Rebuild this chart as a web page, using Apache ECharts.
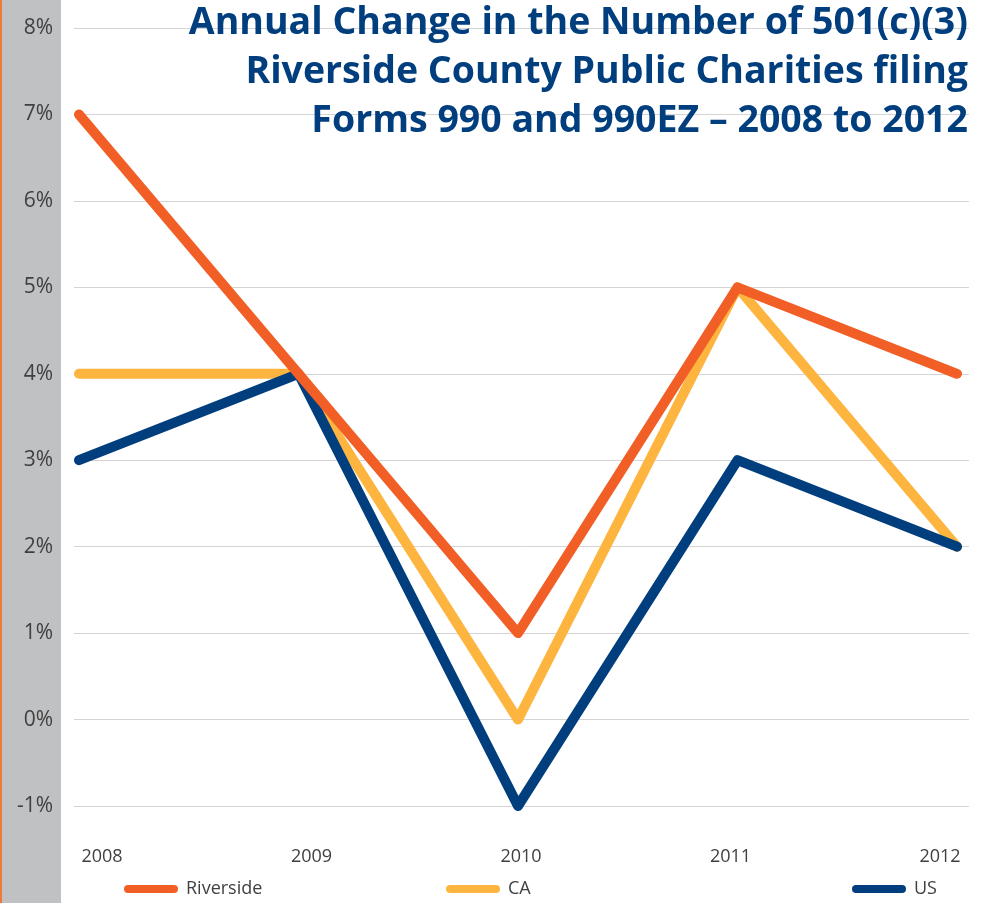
<!DOCTYPE html>
<html>
<head>
<meta charset="utf-8">
<script src="https://cdn.jsdelivr.net/npm/echarts@6/dist/echarts.min.js"></script>
<style>
  html, body { margin: 0; padding: 0; background: #fff; }
  #chart { width: 985px; height: 903px; }
</style>
</head>
<body>
<div id="chart"></div>
<script>
var chart = echarts.init(document.getElementById('chart'), null, { renderer: 'canvas' });

var years = ['2008', '2009', '2010', '2011', '2012'];
var riverside = [7, 4, 1, 5, 4];
var ca = [4, 4, 0, 5, 2];
var us = [3, 4, -1, 3, 2];

var titleText = 'Annual Change in the Number of 501(c)(3)\nRiverside County Public Charities filing\nForms 990 and 990EZ \u2013 2008 to 2012';

var orange = '#f15f26';
var gold = '#fdb53f';
var navy = '#003e7e';
var textGrey = '#404040';

// legend icon: a rounded bar like the thick line
var barIcon = 'path://M4,0 L50,0 A4,4 0 0 1 50,8 L4,8 A4,4 0 0 1 4,0 Z';

function legendAt(name, left) {
    return {
        data: [name],
        left: left,
        top: 880,
        padding: 0,
        icon: barIcon,
        itemWidth: 54,
        itemHeight: 8,
        itemGap: 0,
        textStyle: { color: textGrey, fontSize: 18, fontFamily: 'Open Sans', padding: [0, 0, 0, 3] }
    };
}

chart.setOption({
    backgroundColor: '#fff',
    animation: false,
    graphic: [
        { type: 'rect', left: 0, top: 0, shape: { width: 61, height: 903 }, style: { fill: '#c0c1c3' }, z: -10 },
        { type: 'rect', left: 0, top: 0, shape: { width: 2, height: 903 }, style: { fill: '#f07a3e' }, z: -9 },
        // title, each line right aligned
        {
            type: 'text', x: 968, y: -1, z: 10,
            style: {
                text: titleText,
                align: 'right',
                verticalAlign: 'top',
                fill: navy,
                fontFamily: 'Open Sans',
                fontWeight: 'bold',
                fontSize: 37.5,
                lineHeight: 49
            }
        }
    ],
    legend: [
        legendAt('Riverside', 124),
        legendAt('CA', 446),
        legendAt('US', 852)
    ],
    grid: [
        // data
        { left: 79, right: 28, top: 28, bottom: 97 },
        // gridlines + y labels
        { left: 74, right: 16, top: 28, bottom: 97 },
        // x labels
        { left: 102, right: 45, top: 28, bottom: 97 }
    ],
    xAxis: [
        {
            gridIndex: 0, type: 'category', data: years, boundaryGap: false,
            axisLine: { show: false }, axisTick: { show: false }, axisLabel: { show: false }, splitLine: { show: false }
        },
        {
            gridIndex: 1, type: 'value', min: 0, max: 1, show: false
        },
        {
            gridIndex: 2, type: 'category', data: years, boundaryGap: false,
            axisLine: { show: false }, axisTick: { show: false }, splitLine: { show: false },
            axisLabel: { color: textGrey, fontSize: 18, fontFamily: 'Open Sans', margin: 42 }
        }
    ],
    yAxis: [
        { gridIndex: 0, type: 'value', min: -1, max: 8, interval: 1, show: false },
        {
            gridIndex: 1, type: 'value', min: -1, max: 8, interval: 1,
            axisLine: { show: false }, axisTick: { show: false },
            axisLabel: { color: textGrey, fontSize: 21, fontFamily: 'Open Sans', margin: 21, formatter: '{value}%', padding: [0, 0, 6, 0] },
            splitLine: { lineStyle: { color: '#d4d4d4', width: 1 } }
        },
        { gridIndex: 2, type: 'value', min: -1, max: 8, show: false }
    ],
    series: [
        {
            name: 'CA', type: 'line', data: ca, xAxisIndex: 0, yAxisIndex: 0,
            symbol: 'none', color: gold, z: 2,
            lineStyle: { width: 10, color: gold, cap: 'round', join: 'round' }
        },
        {
            name: 'US', type: 'line', data: us, xAxisIndex: 0, yAxisIndex: 0,
            symbol: 'none', color: navy, z: 3,
            lineStyle: { width: 10, color: navy, cap: 'round', join: 'round' }
        },
        {
            name: 'Riverside', type: 'line', data: riverside, xAxisIndex: 0, yAxisIndex: 0,
            symbol: 'none', color: orange, z: 4,
            lineStyle: { width: 10, color: orange, cap: 'round', join: 'round' }
        }
    ]
});
</script>
</body>
</html>
